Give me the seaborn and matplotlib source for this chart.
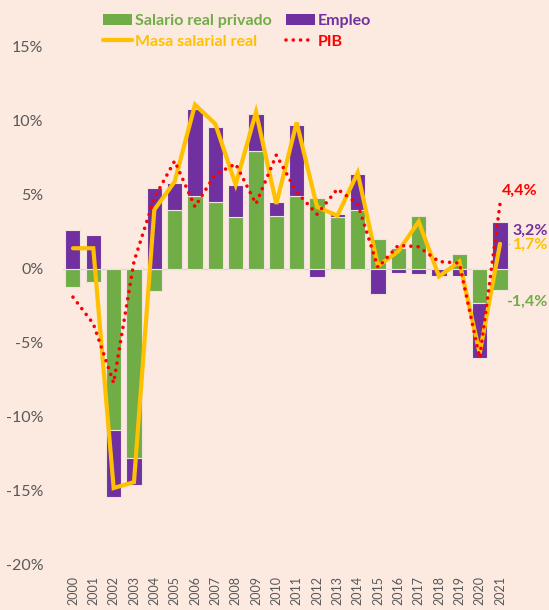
import numpy as np
import matplotlib
matplotlib.use("Agg")
import matplotlib.pyplot as plt
import seaborn as sns
from matplotlib.patches import Patch
from matplotlib.lines import Line2D

# 📥 Data (annual % change)
years = [str(y) for y in range(2000, 2022)]
salario = [-1.2, -0.9, -10.9, -12.8, -1.5, 4.0, 4.9, 4.5, 3.5, 8.0, 3.6,
           4.9, 4.8, 3.5, 4.0, 2.0, 1.4, 3.6, 0.0, 1.0, -2.3, -1.4]
empleo = [2.6, 2.3, -4.5, -1.8, 5.5, 1.8, 5.9, 5.1, 2.2, 2.5, 0.9,
          4.8, -0.55, 0.2, 2.4, -1.7, -0.3, -0.35, -0.5, -0.45, -3.7, 3.2]
masa = [1.4, 1.4, -14.8, -14.4, 4.0, 5.9, 11.1, 9.8, 5.7, 10.6, 4.4,
        9.9, 4.2, 3.6, 6.5, 0.2, 1.2, 3.2, -0.5, 0.5, -5.7, 1.7]
pib = [-1.9, -3.7, -7.7, 0.5, 4.8, 7.3, 4.2, 6.4, 7.1, 4.4, 7.7,
       5.2, 3.7, 5.4, 4.4, 0.1, 1.6, 1.5, 0.5, 0.4, -6.0, 4.4]
end_labels = ["4,4%", "3,2%", "1,7%", "-1,4%"]

GREEN = "#70AD47"
PURPLE = "#7030A0"
YELLOW = "#FFC000"
RED = "#FF0000"
BG = "#FCE9DF"
GREY = "#595959"

sns.set_theme(style="white")
plt.rcParams["font.family"] = ["Lato", "DejaVu Sans"]

fig = plt.figure(figsize=(5.49, 6.10), dpi=100, facecolor=BG)
ax = fig.add_axes([0.1144, 0.0738, 0.8149, 0.8492], facecolor=BG)

# 📊 Stacked bars: green from zero, purple on top when same sign
sns.barplot(x=years, y=salario, color=GREEN, saturation=1, width=0.74,
            edgecolor="#EFE3DD", linewidth=0.8, ax=ax, zorder=2)
idx = np.arange(len(years))
sal = np.array(salario)
emp = np.array(empleo)
bottom = np.where(np.sign(sal) == np.sign(emp), sal, 0.0)
ax.bar(idx, emp, bottom=bottom, width=0.74, color=PURPLE,
       edgecolor="#EFE3DD", linewidth=0.8, zorder=2)

# 📈 Lines
ax.plot(idx, masa, color=YELLOW, lw=3.0, zorder=3, solid_joinstyle="miter")
ax.plot(idx, pib, color=RED, lw=2.6, linestyle=(0, (0.01, 2.0)),
        dash_capstyle="round", zorder=4)

ax.axhline(0, color="#D9D9D9", lw=1.0, zorder=1)

ax.set_xlim(-0.5, len(years) - 0.5)
ax.set_ylim(-20, 15)
ax.set_yticks(np.arange(-20, 16, 5))
ax.set_yticklabels([f"{v}%" for v in range(-20, 16, 5)])
ax.tick_params(axis="y", labelsize=11.5, colors=GREY, length=0, pad=14)
ax.tick_params(axis="x", labelsize=9, colors=GREY, length=0, pad=8,
               labelrotation=90)
for s in ax.spines.values():
    s.set_visible(False)
ax.grid(False)

# 🏷️ End-of-series labels
last = len(years) - 1
ax.text(last + 0.95, 5.3, end_labels[0], color=RED, fontsize=11.5,
        fontweight="bold", ha="center", va="center")
ax.text(last + 0.62, 2.6, end_labels[1], color=PURPLE, fontsize=11.5,
        fontweight="bold", ha="left", va="center")
ax.text(last + 0.62, 1.6, end_labels[2], color=YELLOW, fontsize=11.5,
        fontweight="bold", ha="left", va="center")
ax.text(last + 0.3, -2.25, end_labels[3], color=GREEN, fontsize=11.5,
        fontweight="bold", ha="left", va="center")
ax.plot([last, last + 0.45], [masa[-1], masa[-1]], color="#A6A6A6", lw=0.8,
        zorder=1, clip_on=False)

# 🔖 Legend above the plot
handles = [Patch(facecolor=GREEN, edgecolor="none"),
           Line2D([0], [0], color=YELLOW, lw=3),
           Patch(facecolor=PURPLE, edgecolor="none"),
           Line2D([0], [0], color=RED, lw=2.6, linestyle=(0, (0.01, 2.0)),
                  dash_capstyle="round")]
labels = ["Salario real privado", "Masa salarial real", "Empleo", "PIB"]
leg = fig.legend(handles, labels, ncol=2, loc="upper left",
                 bbox_to_anchor=(103 / 549, 1 - 14 / 610), frameon=False,
                 prop={"weight": "bold", "size": 11.5}, borderpad=0,
                 borderaxespad=0, handlelength=1.8, handletextpad=0.2,
                 columnspacing=0.9, labelspacing=0.4)
for txt, c in zip(leg.get_texts(), [GREEN, YELLOW, PURPLE, RED]):
    txt.set_color(c)

fig.savefig("out.png", dpi=100, facecolor=BG)
